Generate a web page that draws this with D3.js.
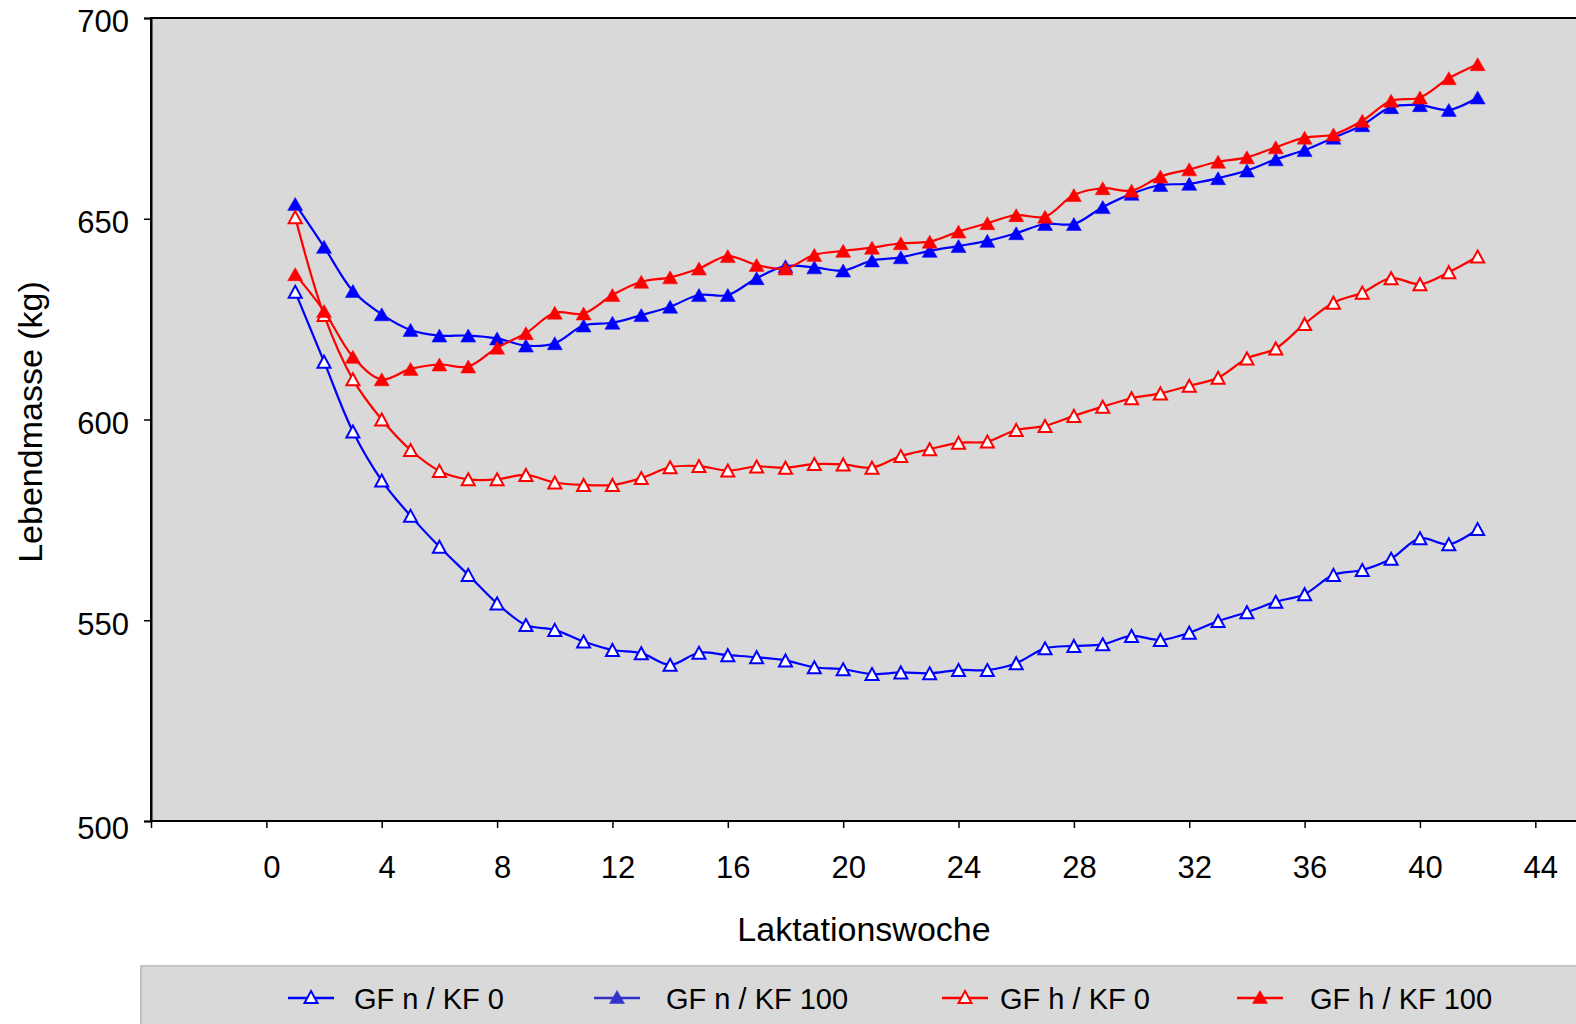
<!DOCTYPE html>
<html>
<head>
<meta charset="utf-8">
<script src="https://cdn.jsdelivr.net/npm/d3@7"></script>
<style>
  body { margin: 0; background: #ffffff; }
  svg text { font-family: "Liberation Sans", Arial, sans-serif; fill: #000; }
</style>
</head>
<body>
<div id="app"></div>
<script>
// weeks of lactation
let weeks = d3.range(1, 43);

// Lebendmasse (kg) per series
let gfnKf0 = [631.8, 614.4, 597.0, 584.8, 576.0, 568.3, 561.3, 554.2, 548.8, 547.6,
  544.7, 542.6, 541.8, 538.9, 541.9, 541.3, 540.8, 540.0, 538.3, 537.8,
  536.6, 537.0, 536.8, 537.6, 537.6, 539.3, 543.0, 543.6, 544.0, 546.1,
  545.1, 546.9, 549.8, 552.0, 554.6, 556.5, 561.3, 562.5, 565.3, 570.4,
  568.9, 572.7];

let gfnKf100 = [653.7, 643.0, 632.0, 626.2, 622.3, 620.9, 620.9, 620.2, 618.4, 619.0,
  623.4, 624.1, 626.0, 628.1, 631.0, 631.0, 635.2, 638.2, 637.9, 637.1,
  639.6, 640.4, 642.0, 643.2, 644.5, 646.4, 648.7, 648.7, 652.9, 656.2,
  658.4, 658.7, 660.1, 662.0, 664.8, 667.1, 670.2, 673.3, 677.8, 678.3,
  677.1, 680.2];

let gfhKf0 = [650.4, 626.0, 610.0, 600.0, 592.4, 587.2, 585.1, 585.1, 586.2, 584.3,
  583.7, 583.7, 585.4, 588.1, 588.4, 587.3, 588.3, 588.0, 588.9, 588.8,
  588.0, 590.9, 592.6, 594.2, 594.5, 597.4, 598.4, 600.9, 603.2, 605.3,
  606.5, 608.4, 610.4, 615.2, 617.7, 623.8, 629.1, 631.6, 635.2, 633.7,
  636.7, 640.6];

let gfhKf100 = [636.2, 627.0, 615.6, 610.0, 612.6, 613.7, 613.2, 617.9, 621.5, 626.6,
  626.4, 631.0, 634.3, 635.4, 637.6, 640.7, 638.5, 637.6, 641.0, 642.0,
  642.8, 643.9, 644.3, 646.8, 648.9, 650.9, 650.5, 655.9, 657.6, 657.0,
  660.5, 662.3, 664.2, 665.3, 667.8, 670.2, 671.0, 674.4, 679.4, 680.2,
  685.0, 688.5];

let seriesNames = ["GF n / KF 0", "GF n / KF 100", "GF h / KF 0", "GF h / KF 100"];
let seriesValues = [gfnKf0, gfnKf100, gfhKf0, gfhKf100];

let xTicks = d3.range(-4, 49, 4);
let xTickLabels = ["", "0", "4", "8", "12", "16", "20", "24", "28", "32", "36", "40", "44", ""];
let yTicks = [500, 550, 600, 650, 700];

// styles per series
let colors = ["#0000ff", "#0000ff", "#ff0000", "#ff0000"];
let filled = [false, true, false, true];

var width = 1576,
  height = 1024;

let svg = d3
  .select("#app")
  .append("svg")
  .attr("width", width)
  .attr("height", height)
  .attr("style", "background-color:#ffffff");

let plot = { left: 151, top: 18, bottom: 821 };
let pxPerWeek = 28.84;

let x = d3
  .scaleLinear()
  .domain([-4, 48])
  .range([plot.left, plot.left + 52 * pxPerWeek]);

let y = d3
  .scaleLinear()
  .domain([500, 700])
  .range([plot.bottom, plot.top]);

// plot area
svg
  .append("rect")
  .attr("x", x(-4))
  .attr("y", y(700))
  .attr("width", x(48) - x(-4))
  .attr("height", y(500) - y(700))
  .attr("fill", "#d9d9d9")
  .attr("stroke", "#000")
  .attr("stroke-width", 2);

// y axis
let yAxis = svg
  .append("g")
  .attr("transform", "translate(" + x(-4) + ",0)")
  .call(d3.axisLeft(y).tickValues(yTicks).tickSize(7).tickPadding(15));
yAxis.select(".domain").attr("stroke-width", 2);
yAxis.selectAll(".tick line").attr("stroke-width", 1.5);
yAxis
  .selectAll(".tick text")
  .attr("font-size", 31)
  .attr("dy", (d) => (d === 500 ? "0.55em" : "0.45em"))
  .style("font-family", "'Liberation Sans', Arial, sans-serif");

// x axis
let xAxis = svg
  .append("g")
  .attr("transform", "translate(0," + y(500) + ")")
  .call(
    d3
      .axisBottom(x)
      .tickValues(xTicks)
      .tickSize(7)
      .tickPadding(28)
      .tickFormat((d, i) => xTickLabels[i])
  );
xAxis.select(".domain").remove();
xAxis.selectAll(".tick line").attr("stroke-width", 1.5);
xAxis
  .selectAll(".tick text")
  .attr("font-size", 31)
  .attr("dx", 5)
  .style("font-family", "'Liberation Sans', Arial, sans-serif");

// axis titles
svg
  .append("text")
  .attr("x", 864)
  .attr("y", 941)
  .attr("text-anchor", "middle")
  .attr("font-size", 34)
  .text("Laktationswoche");

svg
  .append("text")
  .attr("transform", "translate(42,422) rotate(-90)")
  .attr("text-anchor", "middle")
  .attr("font-size", 34)
  .text("Lebendmasse (kg)");

// triangle marker centred on its box
function triangle(s, h) {
  return "M0," + -h / 2 + "L" + s / 2 + "," + h / 2 + "L" + -s / 2 + "," + h / 2 + "Z";
}

let line = d3
  .line()
  .curve(d3.curveCatmullRom)
  .x((d, i) => x(weeks[i]))
  .y((d) => y(d));

seriesValues.forEach((vals, k) => {
  let g = svg.append("g").attr("class", "series-" + k);

  g.append("path")
    .datum(vals)
    .attr("d", line)
    .attr("fill", "none")
    .attr("stroke", colors[k])
    .attr("stroke-width", 2.2);

  g.selectAll("path.mark")
    .data(vals)
    .enter()
    .append("path")
    .attr("class", "mark")
    .attr("transform", (d, i) => "translate(" + x(weeks[i]) + "," + y(d) + ")")
    .attr("d", filled[k] ? triangle(15, 13) : triangle(13, 12))
    .attr("fill", filled[k] ? colors[k] : "#ffffff")
    .attr("stroke", colors[k])
    .attr("stroke-width", filled[k] ? 0.5 : 2);
});

// legend
let legend = svg.append("g");
legend
  .append("rect")
  .attr("x", 141)
  .attr("y", 966)
  .attr("width", 1500)
  .attr("height", 100)
  .attr("fill", "#d9d9d9")
  .attr("stroke", "#c4c4c4")
  .attr("stroke-width", 2);

let legLineX = [288, 594, 942, 1237];
let legTextX = [354, 666, 1000, 1310];
let legY = 998;

seriesNames.forEach((name, k) => {
  let item = legend.append("g");
  item
    .append("line")
    .attr("x1", legLineX[k])
    .attr("x2", legLineX[k] + 46)
    .attr("y1", legY)
    .attr("y2", legY)
    .attr("stroke", k === 1 ? "#3333cc" : colors[k])
    .attr("stroke-width", 2.5);
  item
    .append("path")
    .attr("transform", "translate(" + (legLineX[k] + 23) + "," + (legY - 1) + ")")
    .attr("d", filled[k] ? triangle(15, 13) : triangle(13, 12))
    .attr("fill", filled[k] ? (k === 1 ? "#3333cc" : colors[k]) : "#ffffff")
    .attr("stroke", k === 1 ? "#3333cc" : colors[k])
    .attr("stroke-width", filled[k] ? 0.5 : 2);
  item
    .append("text")
    .attr("x", legTextX[k])
    .attr("y", legY + 11)
    .attr("font-size", 29)
    .text(name);
});
</script>
</body>
</html>
